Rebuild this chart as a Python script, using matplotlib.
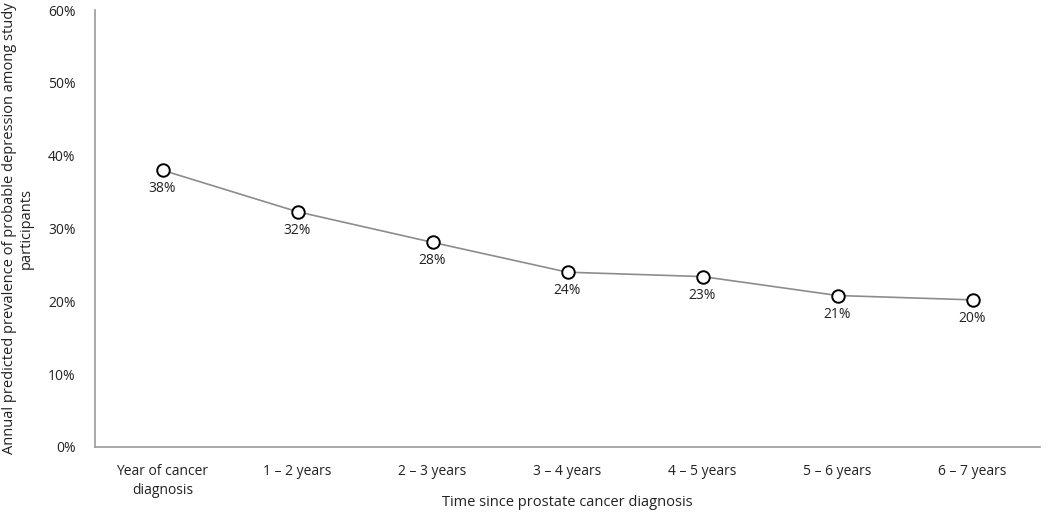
import matplotlib.pyplot as plt
from matplotlib.ticker import PercentFormatter

plt.rcParams['font.family'] = ['Open Sans', 'DejaVu Sans']

# Data
periods = ['Year of cancer\ndiagnosis', '1 – 2 years', '2 – 3 years', '3 – 4 years',
           '4 – 5 years', '5 – 6 years', '6 – 7 years']
prevalence = [38.0, 32.3, 28.1, 24.0, 23.4, 20.8, 20.2]
point_labels = ['38%', '32%', '28%', '24%', '23%', '21%', '20%']

fig = plt.figure(figsize=(10.5, 5.13), dpi=100)
ax = fig.add_axes([95/1050, 66/513, 945/1050, 437/513])

x = list(range(len(periods)))
ax.plot(x, prevalence, color='#8c8c8c', lw=1.2, marker='o', ms=9,
        mfc='white', mec='black', mew=1.4, zorder=3)

for xi, v, lab in zip(x, prevalence, point_labels):
    ax.annotate(lab, (xi, v), xytext=(0, -8), textcoords='offset points',
                ha='center', va='top', fontsize=10, color='#222222')

ax.set_xlim(-0.5, len(periods) - 0.5)
ax.set_ylim(0, 60)
ax.set_yticks(range(0, 61, 10))
ax.yaxis.set_major_formatter(PercentFormatter(decimals=0))
ax.set_xticks(x)
ax.set_xticklabels(periods, linespacing=1.4)
ax.tick_params(length=0, labelsize=10, colors='#222222', pad=12)
ax.tick_params(axis='y', pad=14)

for s in ['top', 'right']:
    ax.spines[s].set_visible(False)
for s in ['left', 'bottom']:
    ax.spines[s].set_color('#999999')
    ax.spines[s].set_linewidth(1.2)

ax.set_xlabel('Time since prostate cancer diagnosis', fontsize=10.5, color='#222222', va='center')
ax.xaxis.set_label_coords(0.5, -0.126)
ax.set_ylabel('Annual predicted prevalence of probable depression among study\nparticipants',
              fontsize=10.5, color='#222222', labelpad=10)

fig.savefig('out.png', dpi=100)
